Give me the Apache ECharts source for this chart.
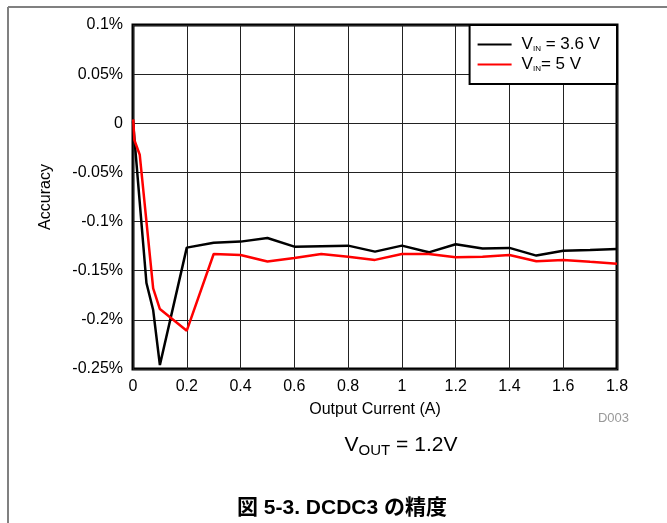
<!DOCTYPE html>
<html>
<head>
<meta charset="utf-8">
<script src="https://cdn.jsdelivr.net/npm/echarts@6/dist/echarts.min.js"></script>
<style>
  html, body { margin: 0; padding: 0; background: #fff; }
  #chart { width: 667px; height: 523px; }
</style>
</head>
<body>
<div id="chart"></div>
<script>
// Output current (A) and accuracy (%)
const current36 = [0, 0.05, 0.075, 0.1, 0.2, 0.3, 0.4, 0.5, 0.6, 0.7, 0.8, 0.9, 1.0, 1.1, 1.2, 1.3, 1.4, 1.5, 1.6, 1.7, 1.8];
const accuracy36 = [0.002, -0.1625, -0.19, -0.246, -0.1265, -0.1215, -0.1204, -0.1167, -0.1255, -0.125, -0.1245, -0.1306, -0.1245, -0.1313, -0.1231, -0.1275, -0.1268, -0.1346, -0.1296, -0.1288, -0.1279];

const current5 = [0.001, 0.005, 0.025, 0.075, 0.1, 0.2, 0.3, 0.4, 0.5, 0.6, 0.7, 0.8, 0.9, 1.0, 1.1, 1.2, 1.3, 1.4, 1.5, 1.6, 1.7, 1.8];
const accuracy5 = [0.004, -0.017, -0.032, -0.168, -0.189, -0.211, -0.133, -0.134, -0.1407, -0.137, -0.133, -0.1357, -0.139, -0.133, -0.133, -0.1364, -0.1357, -0.134, -0.1404, -0.139, -0.141, -0.1428];

const seriesNames = ['3.6', '5'];
const legendLabels = { '3.6': '{p|V}{s|IN}{v| = 3.6 V}', '5': '{p|V}{s|IN}{v|= 5 V}' };

const font = 'Liberation Sans, Arial, sans-serif';

const pairs = (xs, ys) => xs.map((x, i) => [x, ys[i]]);

const chart = echarts.init(document.getElementById('chart'));

const option = {
  backgroundColor: '#fff',
  animation: false,
  grid: {
    left: 133, right: 50, top: 25, bottom: 154,
    show: true, borderColor: '#000', borderWidth: 3, backgroundColor: 'transparent'
  },
  legend: {
    data: seriesNames,
    orient: 'vertical',
    right: 50, top: 25,
    padding: [11, 17, 11, 8],
    itemGap: 3,
    itemWidth: 34, itemHeight: 2,
    icon: 'rect',
    borderColor: '#000', borderWidth: 2,
    backgroundColor: '#fff',
    formatter: name => legendLabels[name],
    textStyle: {
      rich: {
        p: { fontFamily: font, fontSize: 17, color: '#000', padding: [0, 0, 0, 5] },
        v: { fontFamily: font, fontSize: 17, color: '#000' },
        s: { fontFamily: font, fontSize: 8, color: '#000', padding: [8, 0, 0, 0] }
      }
    }
  },
  xAxis: {
    type: 'value',
    min: 0, max: 1.8, interval: 0.2,
    name: 'Output Current (A)',
    nameLocation: 'middle', nameGap: 33,
    nameTextStyle: { fontFamily: font, fontSize: 16, color: '#000' },
    axisLine: { show: false },
    axisTick: { show: false },
    axisLabel: {
      fontFamily: font, fontSize: 16, color: '#000', margin: 10,
      formatter: v => String(parseFloat(v.toFixed(1)))
    },
    splitLine: { show: true, lineStyle: { color: '#222', width: 1 } }
  },
  yAxis: {
    type: 'value',
    min: -0.25, max: 0.1, interval: 0.05,
    name: 'Accuracy',
    nameLocation: 'middle', nameGap: 79,
    nameTextStyle: { fontFamily: font, fontSize: 16, color: '#000' },
    axisLine: { show: false },
    axisTick: { show: false },
    axisLabel: {
      fontFamily: font, fontSize: 16, color: '#000', margin: 10,
      formatter: v => {
        const r = parseFloat(v.toFixed(2));
        return r === 0 ? '0' : r + '%';
      }
    },
    splitLine: { show: true, lineStyle: { color: '#222', width: 1 } }
  },
  series: [
    {
      name: seriesNames[0], type: 'line', data: pairs(current36, accuracy36),
      symbol: 'none', color: '#000', lineStyle: { width: 2.5, color: '#000' }, z: 3
    },
    {
      name: seriesNames[1], type: 'line', data: pairs(current5, accuracy5),
      symbol: 'none', color: '#ff0000', lineStyle: { width: 2.5, color: '#ff0000' }, z: 4
    }
  ],
  graphic: [
    { type: 'line', shape: { x1: 8, y1: 7, x2: 667, y2: 7 }, style: { stroke: '#808080', lineWidth: 2 } },
    { type: 'line', shape: { x1: 8, y1: 7, x2: 8, y2: 523 }, style: { stroke: '#808080', lineWidth: 2 } },
    {
      type: 'text', x: 629, y: 418,
      style: { text: 'D003', font: '13px ' + font, fill: '#999', align: 'right', verticalAlign: 'middle' }
    },
    {
      type: 'text', x: 401, y: 445,
      style: {
        text: '{v|V}{s|OUT}{v| = 1.2V}',
        align: 'center', verticalAlign: 'middle',
        rich: {
          v: { fontFamily: font, fontSize: 21, fill: '#000' },
          s: { fontFamily: font, fontSize: 15, fill: '#000', padding: [11, 0, 0, 0] }
        }
      }
    },
    {
      type: 'text', x: 342, y: 508,
      style: {
        text: '図 5-3. DCDC3 の精度',
        font: 'bold 21px "Liberation Sans", "Noto Sans CJK JP", sans-serif',
        fill: '#000', align: 'center', verticalAlign: 'middle'
      }
    }
  ]
};

chart.setOption(option);
</script>
</body>
</html>
